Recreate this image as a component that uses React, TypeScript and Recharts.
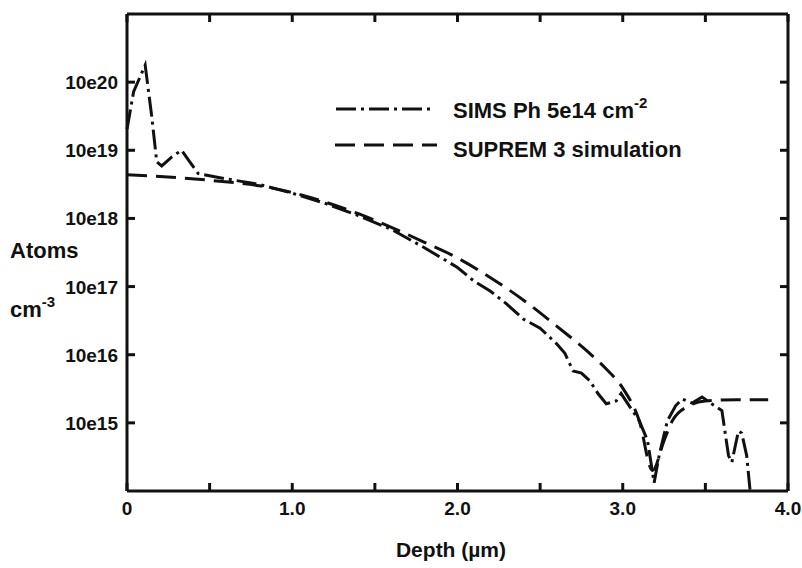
import { Line, LineChart, XAxis, YAxis } from "recharts";

// SIMS measured profile (log10 of atoms/cm3) vs depth in µm
const simsDepth = [
  0, 0.04, 0.11, 0.15, 0.18, 0.21, 0.27, 0.33, 0.38, 0.43, 0.6, 0.8, 1.0, 1.2, 1.4,
  1.6, 1.8, 2.0, 2.1, 2.2, 2.3, 2.4, 2.5, 2.6, 2.65, 2.7, 2.75, 2.8, 2.85, 2.9, 2.96,
  2.99, 3.05, 3.1, 3.15, 3.19, 3.22, 3.27, 3.32, 3.36, 3.42, 3.48, 3.55, 3.6, 3.64,
  3.66, 3.7, 3.72, 3.75, 3.77,
];
const simsLog = [
  19.31, 19.86, 20.25, 19.49, 18.83, 18.77, 18.9, 19.0, 18.83, 18.66, 18.58, 18.5, 18.37,
  18.22, 18.04, 17.84, 17.57, 17.28, 17.08, 16.93, 16.74, 16.52, 16.39, 16.16, 16.02,
  15.76, 15.73, 15.62, 15.43, 15.28, 15.32, 15.43, 15.21, 15.03, 14.74, 14.12, 14.52,
  15.03, 15.25, 15.35, 15.29, 15.38, 15.26, 15.18, 14.52, 14.42, 14.88, 14.85, 14.52, 14.02,
];

// SUPREM 3 simulated profile
const supremDepth = [
  0, 0.3, 0.5, 0.8, 1.0, 1.2, 1.4, 1.6, 1.8, 2.0, 2.2, 2.4, 2.6, 2.8, 2.9, 3.0, 3.1,
  3.18, 3.25, 3.3, 3.4, 3.5, 3.7, 3.88,
];
const supremLog = [
  18.64, 18.6, 18.56, 18.48, 18.38, 18.24, 18.07, 17.87, 17.65, 17.42, 17.13, 16.8,
  16.42, 16.02, 15.79, 15.51, 15.03, 14.3, 14.74, 15.03, 15.25, 15.32, 15.34, 15.34,
];

const depthTicks = [0, 0.5, 1, 1.5, 2, 2.5, 3, 3.5, 4];
const decadeTicks = [15, 16, 17, 18, 19, 20];

const simsData = simsDepth.map((x, i) => ({ x, y: simsLog[i] }));
const supremData = supremDepth.map((x, i) => ({ x, y: supremLog[i] }));

const FONT = "'Liberation Sans', Arial, sans-serif";
const INK = "#111";
// plot box edges (chart margin + axis sizes)
const PLOT_TOP = 14;
const PLOT_RIGHT = 788;

// left axis: label + inward tick, plus the matching tick on the right frame edge
function LeftTick({ x, y, payload }: any) {
  return (
    <g>
      <line x1={x} x2={x + 8} y1={y} y2={y} stroke={INK} strokeWidth={3} />
      <line x1={PLOT_RIGHT} x2={PLOT_RIGHT - 8} y1={y} y2={y} stroke={INK} strokeWidth={3} />
      <text x={x - 9} y={y + 7} textAnchor="end" fontSize={19} fontWeight="bold" fill={INK} fontFamily={FONT}>
        {`10e${payload.value}`}
      </text>
    </g>
  );
}

// bottom axis: inward tick, top frame tick, label on whole microns only
function BottomTick({ x, y, payload }: any) {
  const v = payload.value;
  const whole = Number.isInteger(v);
  return (
    <g>
      <line x1={x} x2={x} y1={y} y2={y - 8} stroke={INK} strokeWidth={3} />
      <line x1={x} x2={x} y1={PLOT_TOP} y2={PLOT_TOP + 8} stroke={INK} strokeWidth={3} />
      {whole && (
        <text x={x} y={y + 24} textAnchor="middle" fontSize={19} fontWeight="bold" fill={INK} fontFamily={FONT}>
          {v === 0 ? "0" : v.toFixed(1)}
        </text>
      )}
    </g>
  );
}

// axis titles and the key, drawn inside the chart svg
function Titles() {
  const txt = { fontSize: 22, fontWeight: "bold", fill: INK, fontFamily: FONT } as const;
  return (
    <g>
      <text x={10} y={258} {...txt}>Atoms</text>
      <text x={10} y={317} {...txt}>
        cm<tspan dy={-10} fontSize={15}>-3</tspan>
      </text>
      <text x={451} y={557} textAnchor="middle" {...txt} fontSize={21}>Depth (µm)</text>
      <line x1={336} x2={432} y1={109} y2={109} stroke={INK} strokeWidth={3} strokeDasharray="20 5 3 5" />
      <text x={453} y={118} {...txt}>
        SIMS Ph 5e14 cm<tspan dy={-10} fontSize={15}>-2</tspan>
      </text>
      <line x1={335} x2={437} y1={145} y2={145} stroke={INK} strokeWidth={3} strokeDasharray="20 9" />
      <text x={453} y={157} {...txt}>SUPREM 3 simulation</text>
    </g>
  );
}

export default function App() {
  const axisLine = { stroke: INK, strokeWidth: 3 };
  return (
    <div style={{ position: "absolute", left: 0, top: 0, width: 802, height: 568, background: "#fff" }}>
      <LineChart width={802} height={568} margin={{ top: 0, right: 0, bottom: 0, left: 0 }}>
        <XAxis
          type="number"
          dataKey="x"
          domain={[0, 4]}
          ticks={depthTicks}
          height={77}
          axisLine={axisLine}
          tickLine={false}
          tickSize={0}
          tickMargin={0}
          tick={<BottomTick />}
        />
        <XAxis
          xAxisId="top"
          orientation="top"
          type="number"
          dataKey="x"
          domain={[0, 4]}
          ticks={depthTicks}
          height={PLOT_TOP}
          axisLine={axisLine}
          tickLine={false}
          tick={false}
        />
        <YAxis
          type="number"
          dataKey="y"
          domain={[14, 21]}
          ticks={decadeTicks}
          width={127}
          axisLine={axisLine}
          tickLine={false}
          tickSize={0}
          tickMargin={0}
          tick={<LeftTick />}
          label={<Titles />}
        />
        <YAxis
          yAxisId="right"
          orientation="right"
          type="number"
          domain={[14, 21]}
          ticks={decadeTicks}
          width={802 - PLOT_RIGHT}
          axisLine={axisLine}
          tickLine={false}
          tick={false}
        />
        <Line
          data={simsData}
          dataKey="y"
          name="SIMS Ph 5e14 cm-2"
          type="linear"
          stroke={INK}
          strokeWidth={3}
          strokeDasharray="20 5 3 5"
          dot={false}
          isAnimationActive={false}
        />
        <Line
          data={supremData}
          dataKey="y"
          name="SUPREM 3 simulation"
          type="monotone"
          stroke={INK}
          strokeWidth={3}
          strokeDasharray="20 9"
          dot={false}
          isAnimationActive={false}
        />
      </LineChart>
    </div>
  );
}
